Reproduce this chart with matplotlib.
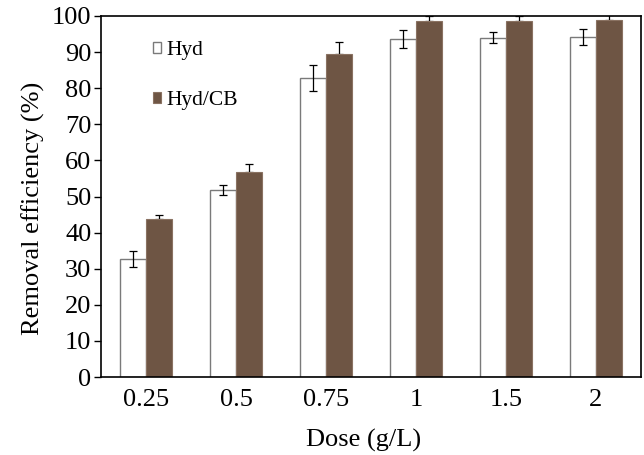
import matplotlib
matplotlib.use("Agg")
import matplotlib.pyplot as plt
import numpy as np

doses = ["0.25", "0.5", "0.75", "1", "1.5", "2"]
hyd = [32.7, 51.8, 82.8, 93.5, 94.0, 94.2]
hyd_err = [2.3, 1.5, 3.5, 2.5, 1.5, 2.3]
hyd_cb = [43.8, 56.8, 89.4, 98.5, 98.6, 98.8]
hyd_cb_err = [1.2, 2.3, 3.3, 1.5, 1.5, 1.5]

plt.rcParams["font.family"] = ["Liberation Serif", "DejaVu Serif"]
plt.rcParams["font.size"] = 19

fig = plt.figure(figsize=(6.44, 4.55), dpi=100)
ax = fig.add_axes([101 / 644, 1 - 377 / 455, 540 / 644, 361 / 455])

x = np.arange(len(doses))
w = 0.285
brown = "#6e5544"

ax.bar(x - w / 2, hyd, w, color="white", edgecolor="#7a7a7a", linewidth=1.0,
       label="Hyd", zorder=2)
ax.errorbar(x - w / 2, hyd, yerr=hyd_err, fmt="none", ecolor="black",
            elinewidth=0.9, capsize=3, capthick=0.9, zorder=3)
ax.bar(x + w / 2, hyd_cb, w, color=brown, edgecolor="#8a7262", linewidth=0.8,
       label="Hyd/CB", zorder=2)
ax.errorbar(x + w / 2, hyd_cb, yerr=[np.zeros(len(hyd_cb)), hyd_cb_err],
            fmt="none", ecolor="black", elinewidth=0.9, capsize=3,
            capthick=0.9, zorder=1)

ax.set_xlim(-0.5, len(doses) - 0.5)
ax.set_ylim(0, 100)
ax.set_yticks(range(0, 101, 10))
ax.set_xticks(x)
ax.set_xticklabels(doses)
ax.tick_params(axis="x", length=0, pad=9)
ax.tick_params(axis="y", direction="out", length=5, width=1, pad=2)
for s in ax.spines.values():
    s.set_linewidth(1.2)

ax.set_xlabel("Dose (g/L)")
ax.xaxis.set_label_coords(0.487, -0.143)
ax.set_ylabel("Removal efficiency (%)")
ax.yaxis.set_label_coords(-0.103, 0.468)

ax.legend(loc="upper left", bbox_to_anchor=(0.06, 0.985), frameon=False,
          handlelength=0.4, handleheight=0.4, handletextpad=0.25,
          labelspacing=1.45, fontsize=15.5)

fig.savefig("out.png", dpi=100)
